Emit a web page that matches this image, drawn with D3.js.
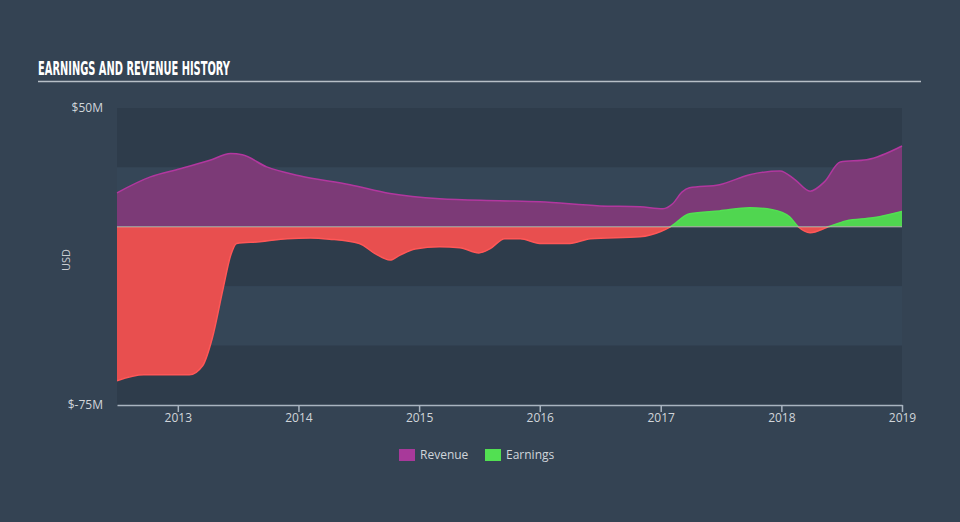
<!DOCTYPE html>
<html><head><meta charset="utf-8">
<script src="https://cdn.jsdelivr.net/npm/d3@7"></script>
<style>
html,body{margin:0;padding:0;background:#344353;}
svg{display:block;}
</style></head>
<body>
<svg id="chart" width="960" height="522"></svg>
<script>
// ---- data (USD millions) ----
const revenueDates = ["2012-07-01","2012-10-10","2013-01-08","2013-04-08","2013-06-10","2013-07-15","2013-09-27","2014-01-04","2014-06-06","2014-10-05","2015-03-04","2015-09-02","2016-01-01","2016-07-01","2016-10-30","2017-01-08","2017-02-06","2017-03-07","2017-03-29","2017-06-28","2017-09-27","2017-12-28","2018-02-10","2018-03-29","2018-05-12","2018-06-28","2018-09-16","2019-01-01"];
const revenueValues = [14.3,21,24.4,28,30.8,30.3,25.2,21.5,17.7,14,11.8,11,10.5,8.8,8.4,7.6,9.7,14.7,16.4,17.7,21.9,23.5,20,15,19,27.3,28.2,34];

const earningsDates = ["2012-07-01","2012-09-20","2013-02-05","2013-03-17","2013-04-15","2013-05-18","2013-06-10","2013-06-28","2013-09-06","2013-11-28","2014-02-06","2014-04-05","2014-07-04","2014-08-22","2014-10-05","2014-11-03","2014-12-20","2015-03-04","2015-05-04","2015-07-01","2015-08-03","2015-09-17","2015-11-03","2016-01-01","2016-04-01","2016-06-02","2016-10-30","2017-01-01","2017-01-30","2017-03-29","2017-06-28","2017-09-27","2017-12-05","2018-01-26","2018-02-21","2018-03-29","2018-05-23","2018-07-16","2018-10-05","2019-01-01"];
const earningsValues = [-64.8,-62.3,-62.3,-58.5,-47,-26,-12,-7,-6.3,-5,-4.7,-5.2,-7,-11.4,-14,-12,-9.3,-8.4,-8.8,-11,-9.3,-5,-5,-7,-7,-5,-4.2,-2,0,5.5,6.7,8,7.2,4.2,0,-2.5,0,2.5,3.8,6.5];

const yTicks = [50,-75];
const yTickLabels = ["$50M","$-75M"];
const xTickYears = [2013,2014,2015,2016,2017,2018,2019];
const bandEdges = [50,25,0,-25,-50,-75];
const legendItems = ["Revenue","Earnings"];

// ---- layout ----
const svg = d3.select("#chart");
const W = 960, H = 522;
const m = {left:117, right:58, top:108, bottom:117};
const iw = W - m.left - m.right, ih = H - m.top - m.bottom;
const parse = d3.timeParse("%Y-%m-%d");

const x = d3.scaleTime().domain([parse("2012-07-01"), parse("2019-01-01")]).range([m.left, m.left+iw]);
const y = d3.scaleLinear().domain([-75,50]).range([m.top+ih, m.top]);

svg.append("rect").attr("width",W).attr("height",H).attr("fill","#344353");

// title
svg.append("text").attr("x",38).attr("y",75)
  .attr("font-family","'Liberation Sans Narrow','DejaVu Sans Condensed',sans-serif")
  .attr("font-weight","bold").attr("font-size",19).attr("fill","#ffffff")
  .attr("textLength",192).attr("lengthAdjust","spacingAndGlyphs")
  .text("EARNINGS AND REVENUE HISTORY");
svg.append("line").attr("x1",38).attr("x2",921).attr("y1",81.5).attr("y2",81.5)
  .attr("stroke","#b7bfc7").attr("stroke-width",1.5);

// bands
const bands = d3.pairs(bandEdges);
svg.append("g").selectAll("rect").data(bands).join("rect")
  .attr("x",m.left).attr("width",iw)
  .attr("y",d=>y(d[0])).attr("height",d=>y(d[1])-y(d[0]))
  .attr("fill",(d,i)=> i%2===0 ? "#2e3c4b" : "#354657");

// series
const rev = revenueDates.map((d,i)=>({date:parse(d), v:revenueValues[i]}));
const earn = earningsDates.map((d,i)=>({date:parse(d), v:earningsValues[i]}));
const curve = d3.curveMonotoneX;

svg.append("path").datum(rev)
  .attr("d", d3.area().x(d=>x(d.date)).y0(y(0)).y1(d=>y(d.v)).curve(curve))
  .attr("fill","#7c3a77");
svg.append("path").datum(rev)
  .attr("d", d3.line().x(d=>x(d.date)).y(d=>y(d.v)).curve(curve))
  .attr("fill","none").attr("stroke","#b2379f").attr("stroke-width",1.5);

// earnings: positive green, negative red via clip
const defs = svg.append("defs");
defs.append("clipPath").attr("id","pos").append("rect")
  .attr("x",m.left).attr("width",iw).attr("y",m.top).attr("height",y(0)-m.top);
defs.append("clipPath").attr("id","neg").append("rect")
  .attr("x",m.left).attr("width",iw).attr("y",y(0)).attr("height",m.top+ih-y(0));
const eArea = d3.area().x(d=>x(d.date)).y0(y(0)).y1(d=>y(d.v)).curve(curve);
const eLine = d3.line().x(d=>x(d.date)).y(d=>y(d.v)).curve(curve);
svg.append("path").datum(earn).attr("d",eArea).attr("fill","#e84f4f").attr("clip-path","url(#neg)");
svg.append("path").datum(earn).attr("d",eLine).attr("fill","none").attr("stroke","#ff5757").attr("stroke-width",1.5).attr("clip-path","url(#neg)");
svg.append("path").datum(earn).attr("d",eArea).attr("fill","#50d650").attr("clip-path","url(#pos)");
svg.append("path").datum(earn).attr("d",eLine).attr("fill","none").attr("stroke","#52e052").attr("stroke-width",1.5).attr("clip-path","url(#pos)");

// zero line
svg.append("line").attr("x1",m.left).attr("x2",m.left+iw).attr("y1",y(0)).attr("y2",y(0))
  .attr("stroke","#c9cdc9").attr("stroke-opacity",0.5).attr("stroke-width",1.5);

// x axis
const xAxis = d3.axisBottom(x)
  .tickValues(xTickYears.map(yr=>new Date(yr,0,1)))
  .tickFormat(d3.timeFormat("%Y")).tickSize(7).tickSizeOuter(0);
const gx = svg.append("g").attr("transform",`translate(0,${m.top+ih})`).call(xAxis);
gx.select(".domain").attr("stroke","#a9b4c0").attr("stroke-width",1.5);
gx.selectAll(".tick line").attr("stroke","#a9b4c0").attr("stroke-width",1.5);
gx.selectAll(".tick text").attr("fill","#d0d5da").attr("font-size",12)
  .attr("font-family","'Open Sans',sans-serif").attr("dy","0.95em").attr("y",6);

// y labels
svg.append("g").selectAll("text").data(yTicks).join("text")
  .attr("x",103).attr("y",d=>y(d)).attr("dy","0.35em").attr("text-anchor","end")
  .attr("fill","#d0d5da").attr("font-size",12).attr("font-family","'Open Sans',sans-serif")
  .text((d,i)=>yTickLabels[i]);
svg.append("text").attr("transform","translate(70,260) rotate(-90)")
  .attr("text-anchor","middle").attr("fill","#c8cdd2").attr("font-size",11)
  .attr("font-family","'Open Sans',sans-serif").text("USD");

// legend
const legColors = ["#a8399a","#52e052"];
const legX = [399,485];
const lg = svg.append("g").selectAll("g").data(legendItems).join("g")
  .attr("transform",(d,i)=>`translate(${legX[i]},449)`);
lg.append("rect").attr("width",16).attr("height",12).attr("fill",(d,i)=>legColors[i]);
lg.append("text").attr("x",21).attr("y",6).attr("dy","0.35em")
  .attr("fill","#d0d5da").attr("font-size",12).attr("font-family","'Open Sans',sans-serif")
  .text(d=>d);
</script>
</body></html>
